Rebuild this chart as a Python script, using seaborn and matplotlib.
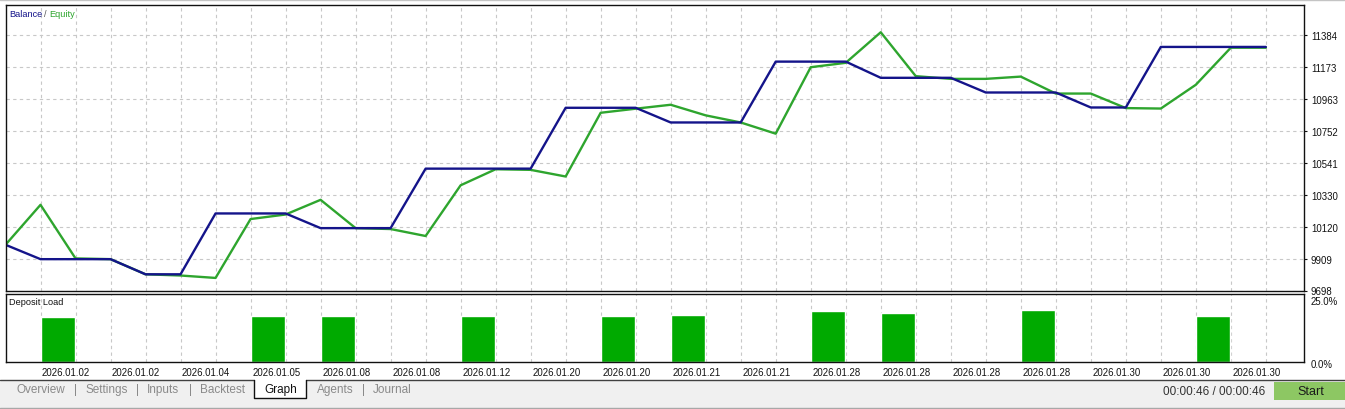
import numpy as np
import pandas as pd
import matplotlib
matplotlib.use("Agg")
import matplotlib.pyplot as plt
import matplotlib.transforms as mtransforms
from matplotlib.patches import Rectangle
from matplotlib.lines import Line2D
import seaborn as sns

# balance / equity after each deal
balance = [10000, 9905, 9905, 9905, 9805, 9805, 10207, 10207, 10207, 10110,
           10110, 10110, 10503, 10503, 10503, 10503, 10905, 10905, 10905, 10808,
           10808, 10808, 11210, 11210, 11210, 11103, 11103, 11103, 11006, 11006,
           11006, 10907, 10907, 11307, 11307, 11307, 11307]
equity = [10000, 10264, 9910, 9905, 9805, 9797, 9781, 10170, 10200, 10297,
          10110, 10104, 10058, 10393, 10499, 10495, 10451, 10872, 10899, 10925,
          10855, 10808, 10734, 11173, 11202, 11404, 11114, 11096, 11096, 11111,
          10999, 10999, 10903, 10900, 11057, 11302, 11302]

# deposit load (%) per interval between deals
deposit_load = [0, 17.9, 0, 0, 0, 0, 0, 18.2, 0, 18.2,
                0, 0, 0, 18.2, 0, 0, 0, 18.2, 0, 18.7,
                0, 0, 0, 20.0, 0, 19.5, 0, 0, 0, 20.7,
                0, 0, 0, 0, 18.3, 0]

y_ticks = [9698, 9909, 10120, 10330, 10541, 10752, 10963, 11173, 11384]
y_tick_labels = ["9698", "9909", "10120", "10330", "10541", "10752", "10963", "11173", "11384"]
load_ticks = [0, 25]
load_tick_labels = ["0.0%", "25.0%"]
date_labels = ["2026.01.02", "2026.01.02", "2026.01.04", "2026.01.05", "2026.01.08",
               "2026.01.08", "2026.01.12", "2026.01.20", "2026.01.20", "2026.01.21",
               "2026.01.21", "2026.01.28", "2026.01.28", "2026.01.28", "2026.01.28",
               "2026.01.30", "2026.01.30", "2026.01.30"]
tabs = ["Overview", "Settings", "Inputs", "Backtest", "Graph", "Agents", "Journal"]

sns.set_style("white")
plt.rcParams['font.family'] = ['Liberation Sans', 'DejaVu Sans']

W, H = 1345, 410
fig = plt.figure(figsize=(W / 100, H / 100), dpi=100)
fig.patch.set_facecolor("white")


def fx(x):
    return x / W


def fy(y):
    return 1 - y / H


blue = "#14148a"
green = "#2ea52e"
grid_kw = dict(color="#c8c8c8", lw=0.8, ls=(0, (3, 3)))

# --- balance / equity panel
ax = fig.add_axes([fx(5.5), fy(291.5), fx(1304 - 5.5), (291.5 - 6) / H])
df = pd.DataFrame({"step": np.arange(len(balance)), "Balance": balance, "Equity": equity})
sns.lineplot(data=df, x="step", y="Equity", color=green, lw=1.7, ax=ax)
sns.lineplot(data=df, x="step", y="Balance", color=blue, lw=1.7, ax=ax)
ax.set_xlim(0, 37.09)
ax.set_ylim(9698, 11584)
ax.set_xticks(np.arange(1, 37))
ax.tick_params(axis="x", length=0, labelbottom=False)
ax.yaxis.tick_right()
ax.set_yticks(y_ticks)
ax.set_yticklabels(y_tick_labels)
ax.tick_params(axis="y", length=2, width=0.8, pad=3, labelsize=6.9, colors="#111111")
ax.grid(True, **grid_kw)
ax.set_xlabel("")
ax.set_ylabel("")
for s in ax.spines.values():
    s.set_color("#111111")
    s.set_linewidth(1.0)
ax.text(fx(9), fy(14.7), "Balance", transform=fig.transFigure, color=blue, fontsize=6.6, va="center")
ax.text(fx(43.5), fy(14.7), "/", transform=fig.transFigure, color="#555555", fontsize=6.6, va="center")
ax.text(fx(49.5), fy(14.7), "Equity", transform=fig.transFigure, color=green, fontsize=6.6, va="center")

# --- deposit load panel
ax2 = fig.add_axes([fx(5.5), fy(363), fx(1304 - 5.5), (363 - 294.5) / H])
ld = pd.DataFrame({"pos": np.arange(len(deposit_load)) + 0.5, "load": deposit_load})
sns.barplot(data=ld, x="pos", y="load", native_scale=True, width=0.97,
            color="#00aa00", saturation=1, errorbar=None, ax=ax2)
ax2.set_xlim(0, 37.09)
ax2.set_ylim(0, 27.1)
ax2.set_xticks(np.arange(1, 37))
ax2.set_xticklabels([date_labels[(i - 1) // 2] if i % 2 == 1 else "" for i in range(1, 37)],
                    ha="left")
ax2.tick_params(axis="x", length=2, width=0.8, pad=1.5, labelsize=6.9, colors="#111111")
ax2.yaxis.tick_right()
ax2.set_yticks(load_ticks)
ax2.set_yticklabels(load_tick_labels)
ax2.tick_params(axis="y", length=0, pad=5, labelsize=6.9, colors="#111111")
shift = mtransforms.ScaledTranslation(0, -1 / 100, fig.dpi_scale_trans)
for lab in ax2.get_yticklabels():
    lab.set_transform(lab.get_transform() + shift)
shift_x = mtransforms.ScaledTranslation(1.5 / 100, 0, fig.dpi_scale_trans)
for lab in ax2.get_xticklabels():
    lab.set_transform(lab.get_transform() + shift_x)
ax2.grid(True, axis="x", **grid_kw)
ax2.set_xlabel("")
ax2.set_ylabel("")
for s in ax2.spines.values():
    s.set_color("#111111")
    s.set_linewidth(1.0)
ax2.text(fx(9), fy(302.3), "Deposit Load", transform=fig.transFigure, color="#111111",
         fontsize=6.6, va="center")

# --- tab strip at the bottom
fig.add_artist(Rectangle((0, 0), 1, (H - 380.5) / H, transform=fig.transFigure,
                         facecolor="#f0f0f0", edgecolor="none", zorder=0))
fig.add_artist(Line2D([0, 1], [fy(1), fy(1)], transform=fig.transFigure, color="#c4c4c4", lw=1))
fig.add_artist(Line2D([0, 1], [fy(408.5), fy(408.5)], transform=fig.transFigure, color="#a8a8a8", lw=1))
fig.add_artist(Line2D([0, fx(254.5)], [fy(380.5)] * 2, transform=fig.transFigure, color="#404040", lw=1))
fig.add_artist(Line2D([fx(306), 1], [fy(380.5)] * 2, transform=fig.transFigure, color="#404040", lw=1))
fig.add_artist(Rectangle((fx(254.5), fy(399)), fx(306 - 254.5), (399 - 380.5) / H,
                         transform=fig.transFigure, facecolor="white", edgecolor="none", zorder=1))
fig.add_artist(Line2D([fx(254.5), fx(254.5), fx(306), fx(306)], [fy(380.5), fy(399), fy(399), fy(380.5)],
                      transform=fig.transFigure, color="#111111", lw=1, zorder=2))

tab_x = [16.5, 85, 147, 200, 264.5, 316.5, 372.5]
sep_x = [75.7, 137.3, 190.7, 363.3]
for name, x in zip(tabs, tab_x):
    fig.text(fx(x), fy(390), name, ha="left", va="center", fontsize=8.5,
             color="#111111" if name == "Graph" else "#8a8a8a", zorder=3)
for x in sep_x:
    fig.text(fx(x), fy(390), "|", ha="center", va="center", fontsize=8.5, color="#8a8a8a")

fig.text(fx(1265), fy(392), "00:00:46 / 00:00:46", ha="right", va="center", fontsize=8.5, color="#333333")
fig.add_artist(Rectangle((fx(1274), fy(401)), fx(1345 - 1274), (401 - 382.5) / H,
                         transform=fig.transFigure, facecolor="#8dc763", edgecolor="none", zorder=1))
fig.text(fx(1311), fy(392), "Start", ha="center", va="center", fontsize=9, color="#1a1a1a", zorder=3)

fig.savefig("out.png", dpi=100)
